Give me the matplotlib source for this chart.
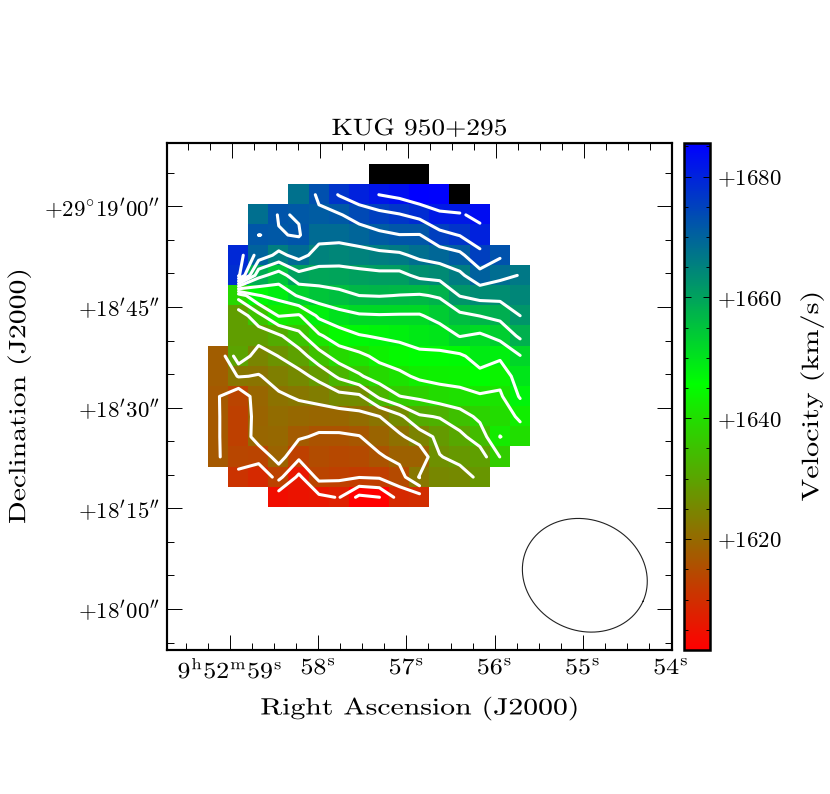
# velocity field of KUG 950+295, cells
import numpy as np
import matplotlib
matplotlib.use('Agg')
import matplotlib.pyplot as plt
from matplotlib.colors import LinearSegmentedColormap
from matplotlib.patheffects import AbstractPathEffect
from matplotlib.transforms import Affine2D

n = np.nan
# one list per declination row (north to south), 16 right ascension columns, km/s
row_00 = [n, n, n, n, n, n, n, n, 1690, 1690, 1690, n, n, n, n, n]
row_01 = [n, n, n, n, 1667.5, 1673, 1677.3, 1680, 1682.05, 1683.2, 1685.2, 1685, 1688, n, n, n]
row_02 = [n, n, 1668, 1672.3, 1671.75, 1671, 1671.6, 1674, 1675.6, 1676.7, 1678.4, 1681.3, 1681.4, 1683.4, n, n]
row_03 = [n, n, 1672.03, 1671.75, 1672.3, 1668.6, 1668.6, 1669.6, 1671, 1671.9, 1671.8, 1675.6, 1677.2, 1680, n, n]
row_04 = [n, 1679.2, 1669.9, 1665.7, 1668.8, 1665, 1664.4, 1665, 1665.8, 1666.2, 1668.1, 1669.4, 1670.9, 1675.6, 1672.7, n]
row_05 = [n, 1678, 1658.5, 1654.7, 1660.4, 1659.6, 1659.9, 1660.5, 1660.9, 1660.8, 1663, 1663.6, 1666, 1670.3, 1668.2, 1666.8]
row_06 = [n, 1639, 1646.8, 1648.5, 1652.6, 1654.6, 1655.7, 1657, 1657.2, 1656.9, 1656.6, 1657.5, 1662.2, 1663.6, 1663.5, 1664.5]
row_07 = [n, 1629, 1635.4, 1642.3, 1641.4, 1648, 1650.3, 1651.5, 1651.7, 1651.6, 1651.6, 1653.6, 1655.9, 1657.1, 1658.3, 1662]
row_08 = [n, 1629, 1629, 1631.2, 1635.6, 1641.3, 1644.6, 1646.7, 1647.5, 1648.1, 1648.9, 1649.5, 1652.2, 1651.2, 1653.4, 1657.9]
row_09 = [1618, 1630, 1624.8, 1627.1, 1629.7, 1635, 1639.3, 1640.8, 1643.3, 1644.6, 1646, 1646, 1646.3, 1648.8, 1647.9, 1651.8]
row_10 = [1618, 1622.3, 1621.7, 1623.7, 1625.5, 1628.3, 1632.9, 1636.4, 1639.3, 1640.9, 1642.9, 1643.5, 1643.8, 1645.8, 1643.7, 1649.6]
row_11 = [1617.2, 1613.5, 1619.6, 1621.4, 1622.5, 1623.6, 1625.4, 1626, 1633, 1636.9, 1638, 1639.7, 1640.5, 1641.4, 1641.2, 1647.5]
row_12 = [1617.3, 1613, 1619.2, 1620.5, 1620, 1619.6, 1619.7, 1620.4, 1621.9, 1625.8, 1631.4, 1632.3, 1634.8, 1638.1, 1639.8, 1642.7]
row_13 = [1617.3, 1613, 1619.5, 1620, 1617.6, 1616.3, 1616.3, 1616.8, 1619.3, 1621.1, 1624.5, 1628.3, 1630.8, 1634.4, 1642.1, 1640]
row_14 = [1617.3, 1614, 1613.5, 1619, 1613, 1615, 1614.4, 1614.5, 1616.4, 1618.4, 1618.4, 1626.8, 1628.1, 1629.5, 1637.1, n]
row_15 = [n, 1610.7, 1609, 1613.4, 1605.9, 1613.5, 1613, 1612.2, 1612.6, 1614.7, 1622.4, 1625, 1625.4, 1627.8, n, n]
row_16 = [n, n, n, 1604, 1605, 1605.9, 1607.3, 1600.8, 1601.95, 1609, 1609.8, n, n, n, n, n]

contour_levels = [1602, 1607, 1612, 1617, 1622, 1627, 1632, 1637, 1642, 1647, 1652, 1657,
                  1662, 1667, 1672, 1677, 1682]

ra_major = [59, 58, 57, 56, 55, 54]
ra_labels = [r'$9^{\rm h}52^{\rm m}59^{\rm s}$', r'$58^{\rm s}$', r'$57^{\rm s}$',
             r'$56^{\rm s}$', r'$55^{\rm s}$', r'$54^{\rm s}$']
dec_major = [60, 45, 30, 15, 0]
dec_labels = [r"$+29^{\circ}19^{\prime}00^{\prime\prime}$", r"$+18^{\prime}45^{\prime\prime}$",
              r"$+18^{\prime}30^{\prime\prime}$", r"$+18^{\prime}15^{\prime\prime}$",
              r"$+18^{\prime}00^{\prime\prime}$"]
cbar_major = [1620, 1640, 1660, 1680]
cbar_labels = ['$+1620$', '$+1640$', '$+1660$', '$+1680$']

# beam: centre (s, arcsec), FWHM axes (arcsec), tilt below horizontal (deg)
beam_centre = (54.977, 5.03)
beam_major = 19.0
beam_minor = 16.5
beam_tilt = 24

vmin, vmax, vgreen = 1601.7, 1685.5, 1645.7
arcsec_per_sec = 13.14

plt.rcParams['mathtext.fontset'] = 'cm'
plt.rcParams['font.family'] = 'cmr10'
plt.rcParams['axes.formatter.use_mathtext'] = True


class WideText(AbstractPathEffect):
    """Stretches text along its baseline, the original lettering is set wider than cmr10."""

    def __init__(self, factor):
        super().__init__()
        self.factor = factor

    def draw_path(self, renderer, gc, tpath, affine, rgbFace=None):
        w = tpath.get_extents().x1
        wide = Affine2D().translate(-w / 2, 0).scale(self.factor, 1).translate(w / 2, 0)
        renderer.draw_path(gc, tpath, wide + affine, rgbFace)


velocity = np.ma.masked_invalid(np.array([row_00, row_01, row_02, row_03, row_04, row_05, row_06,
                                          row_07, row_08, row_09, row_10, row_11, row_12, row_13,
                                          row_14, row_15, row_16]))

# red to green to blue, anything faster than the scale goes black
mid = (vgreen - vmin) / (vmax - vmin)
cmap = LinearSegmentedColormap.from_list('vel', [(0, '#ff0000'), (mid, '#00ff00'), (1, '#0000ff')], N=256)
cmap.set_over('black')
cmap.set_bad((1, 1, 1, 0))

W, H = 830, 794
fig = plt.figure(figsize=(W / 100, H / 100), dpi=100)
ax = fig.add_axes([166.7 / W, 1 - 649.7 / H, 505 / W, 506.4 / H])

# map cells: 3 arcsec pixels
ra_left, ra_step = 59.246, 0.2281
dec_top, dec_step = 66.25, 3.006
nrow, ncol = velocity.shape
extent = [ra_left, ra_left - ncol * ra_step, dec_top - nrow * dec_step, dec_top]
im = ax.imshow(velocity, cmap=cmap, vmin=vmin, vmax=vmax, extent=extent, origin='upper',
               aspect='auto', interpolation='nearest')

ra_centres = ra_left - (np.arange(ncol) + 0.5) * ra_step
dec_centres = dec_top - (np.arange(nrow) + 0.5) * dec_step
cs = ax.contour(ra_centres, dec_centres, velocity, levels=contour_levels, colors='white',
                linewidths=2.2, corner_mask=False)
cs.set_capstyle('round')
cs.set_joinstyle('round')

# beam outline
t = np.linspace(0, 2 * np.pi, 200)
a, b = beam_major / 2, beam_minor / 2
tilt = np.radians(beam_tilt)
dx = a * np.cos(t) * np.cos(tilt) + b * np.sin(t) * np.sin(tilt)
dy = -a * np.cos(t) * np.sin(tilt) + b * np.sin(t) * np.cos(tilt)
ax.plot(beam_centre[0] - dx / arcsec_per_sec, beam_centre[1] + dy, color='#222222', lw=0.8)

xlim = (59.718, 53.992)
ylim = (-6.06, 69.4)
ax.set_xlim(xlim)
ax.set_ylim(ylim)

ax.set_xticks(ra_major)
ax.set_xticklabels(ra_labels, fontsize=16.5)
ax.set_xticks(np.arange(54, 59.75, 0.25), minor=True)
ax.set_yticks(dec_major)
ax.set_yticklabels(dec_labels, fontsize=16.5)
ax.set_yticks(np.arange(-5, 70, 5), minor=True)
ax.tick_params(which='major', direction='in', length=10.8, width=0.7, right=True, pad=5)
ax.tick_params(which='minor', direction='in', length=5.2, width=0.7, right=True)
ax.tick_params(axis='x', pad=6)
for label in ax.get_xticklabels():
    label.set_path_effects([WideText(1.13)])

# RA lines lean a little, the ticks on top sit to the right of those below
top = ax.twiny()
top.set_xlim(xlim[0] + 0.03, xlim[1] + 0.03)
top.set_xticks(ra_major)
top.set_xticks(np.arange(54, 59.75, 0.25), minor=True)
top.tick_params(which='major', direction='in', length=10.8, width=0.7, labeltop=False)
top.tick_params(which='minor', direction='in', length=5.2, width=0.7)

for axis in (ax, top):
    for spine in axis.spines.values():
        spine.set_linewidth(1.5)

title = ax.set_title('KUG 950+295', fontsize=17, pad=6)
title.set_path_effects([WideText(1.16)])
xlab = ax.set_xlabel('Right Ascension (J2000)', fontsize=17, labelpad=10)
xlab.set_path_effects([WideText(1.26)])
ylab = ax.set_ylabel('Declination (J2000)', fontsize=17, labelpad=9)
ylab.set_path_effects([WideText(1.26)])

# colour bar
cax = fig.add_axes([684.3 / W, 1 - 649.7 / H, 25.5 / W, 506.4 / H])
cbar = fig.colorbar(im, cax=cax)
cbar.set_ticks(cbar_major)
cbar.set_ticklabels(cbar_labels, fontsize=16.5)
cax.set_yticks(np.arange(1605, 1690, 5), minor=True)
cax.tick_params(which='major', direction='in', length=5, width=0.7, left=True, right=True, pad=5)
cax.tick_params(which='minor', direction='in', length=2.7, width=0.7, left=True, right=True)
cbar.outline.set_linewidth(1.8)
cbar.set_label('Velocity (km/s)', fontsize=17, labelpad=13)
cax.yaxis.label.set_path_effects([WideText(1.28)])

fig.savefig('out.png', dpi=100)
